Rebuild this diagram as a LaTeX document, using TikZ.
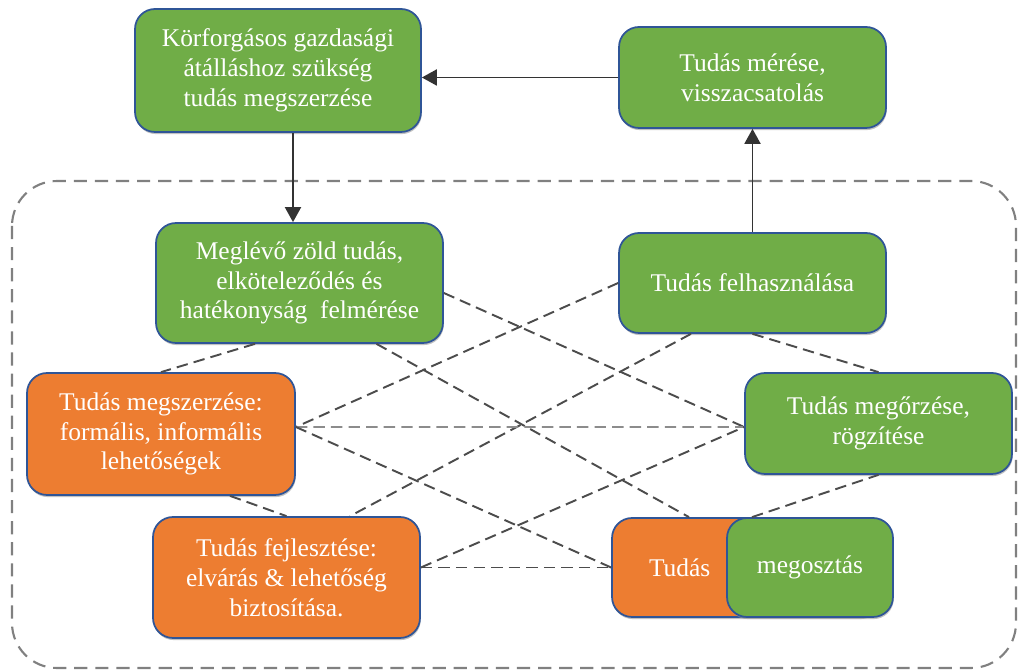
\documentclass[tikz,border=0pt]{standalone}
\usepackage{fontspec}
\setmainfont{Liberation Serif}
\usetikzlibrary{arrows.meta,positioning,calc,shadows}
\definecolor{boxgreen}{HTML}{70AD47}
\definecolor{boxorange}{HTML}{ED7D31}
\definecolor{boxline}{HTML}{2F5597}
\tikzset{
  >={Triangle[length=3mm,width=3.2mm]},
  box/.style={
    draw=boxline, line width=1pt, rectangle, rounded corners=0.4cm,
    align=center, text=white, font=\fontsize{14.5}{17}\selectfont, inner sep=2pt,
    minimum width=5.34cm, minimum height=2.02cm,
    drop shadow={shadow xshift=0.4pt, shadow yshift=-1.2pt, fill=black!40, opacity=0.6}
  },
  greenbox/.style={box, fill=boxgreen},
  orangebox/.style={box, fill=boxorange},
  link/.style={draw=black!70, line width=1.1pt, dash pattern=on 6.5pt off 3.5pt},
  frame/.style={draw=black!50, line width=1.2pt, dash pattern=on 7.5pt off 4.5pt,
    rounded corners=0.9cm},
  flow/.style={->, draw=black!80, line width=1.1pt},
}

\begin{document}
\begin{tikzpicture}[x=0.02cm, y=-0.02cm]
  \useasboundingbox (0,0) rectangle (1018,671);
  \draw[frame] (12,181) rectangle (1016,668);

  \node[greenbox, minimum width=5.72cm, minimum height=2.46cm] (goal) at (278,70.5)
    {Körforgásos gazdasági\\átálláshoz szükség\\tudás megszerzése};
  \node[greenbox] (meas) at (752.5,77.5) {Tudás mérése,\\visszacsatolás};
  \node[greenbox, minimum width=5.74cm, minimum height=2.4cm] (base) at (299.5,283)
    {Meglévő zöld tudás,\\elköteleződés és\\hatékonyság\ \ felmérése};
  \node[greenbox, minimum height=2cm] (use) at (752.5,283) {Tudás felhasználása};
  \node[orangebox, minimum width=5.36cm, minimum height=2.44cm] (acq) at (161,434)
    {Tudás megszerzése:\\formális, informális\\lehetőségek};
  \node[orangebox, minimum height=2.42cm] (dev) at (286.5,577.5)
    {Tudás fejlesztése:\\elvárás \& lehetőség\\biztosítása.};
  \node[greenbox] (keep) at (878.5,423.5) {Tudás megőrzése,\\rögzítése};
  \node[orangebox, minimum width=5.36cm, minimum height=1.98cm, text width=3.88cm,
    inner xsep=0.74cm, align=left] (share) at (746,567.5) {Tudás};
  \node[greenbox, minimum width=3.32cm, minimum height=1.98cm] (share2) at (810,567.5)
    {megosztás};

  % main cycle
  \draw[flow] ([xshift=0.3cm]goal.south) -- ([xshift=0.3cm]goal.south |- base.north);
  \draw[flow] (meas.west) -- (meas.west -| goal.east);
  \draw[flow] (use.north) -- (meas.south);

  % dashed network
  \coordinate (acqR) at ($(acq.east)+(0,-7)$);
  \coordinate (devR) at ($(dev.east)+(0,-10)$);
  \coordinate (keepL) at ($(keep.west)+(0,3.5)$);
  \draw[link] ($(base.south)+(-44.5,0)$) -- (acq.north);
  \draw[link] ($(base.east)+(0,10)$) -- (keepL);
  \draw[link] ($(base.south)+(77,0)$) -- ($(share.north)+(-57,0)$);
  \draw[link] (use.west) -- (acqR);
  \draw[link] ($(use.south)+(-61.5,0)$) -- ($(dev.north)+(63.5,0)$);
  \draw[link] (use.south) -- (keep.north);
  \draw[link, draw=black!45] (acqR) -- (keepL);
  \draw[link] (acqR) -- (share.west);
  \draw[link] ($(acq.south)+(69,0)$) -- (dev.north);
  \draw[link] (devR) -- (keepL);
  \draw[link] (devR) -- (share.west);
  \draw[link] ($(share.north)+(6,0)$) -- (keep.south);
\end{tikzpicture}
\end{document}
